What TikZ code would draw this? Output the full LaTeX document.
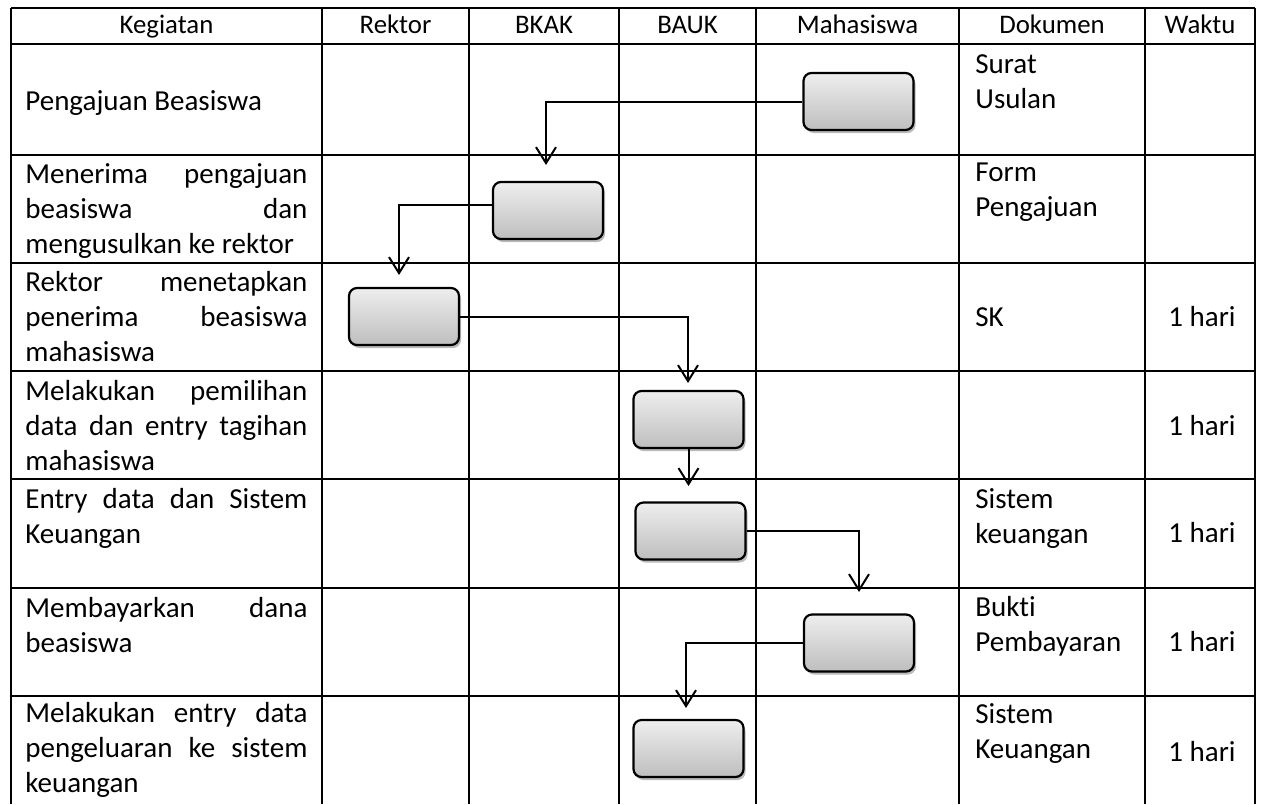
\documentclass[tikz,border=0pt]{standalone}
\usepackage{fontspec}
\setmainfont{Carlito}[Ligatures={NoCommon}]
\usetikzlibrary{arrows.meta,shadows}
\definecolor{boxtop}{RGB}{238,238,238}
\definecolor{boxbot}{RGB}{190,190,190}
\newcommand{\jl}[1]{\makebox[141pt][s]{\spaceskip=0pt\xspaceskip=0pt\relax#1}}
\begin{document}
\begin{tikzpicture}[x=0.5pt,y=-0.5pt,
  rule/.style={line width=1.2pt},
  txt/.style={inner sep=0pt, font=\fontsize{14.5}{17.5}\selectfont},
  cell/.style={txt, anchor=base west, text width=150pt, align=justify},
  doc/.style={txt, anchor=base west, text width=90pt, align=justify},
  hd/.style={inner sep=0pt, font=\fontsize{13.4}{16}\selectfont, anchor=base},
  wk/.style={txt, anchor=base},
  act/.style={draw, line width=1.1pt, rounded corners=4pt, minimum width=55pt,
    minimum height=28.5pt, inner sep=0pt, top color=boxtop, bottom color=boxbot,
    drop shadow={shadow xshift=1pt, shadow yshift=-1.5pt, opacity=0.45, fill=black!60}},
  conn/.style={line width=1pt, -{Straight Barb[length=8pt,width=10pt]}}]
\useasboundingbox (0,0) rectangle (1261,804);
\fill[white] (0,0) rectangle (1261,804);
% table grid
\foreach \y in {8,44,155,263,371,479,588,696}
  \draw[rule] (11,\y) -- (1255,\y);
\foreach \x in {11,322,469,619,756,959,1145,1255}
  \draw[rule] (\x,8) -- (\x,804);
% header
\node[hd] (hKeg) at (166.5,33.5) {Kegiatan};
\node[hd] (hRek) at (395.5,33.5) {Rektor};
\node[hd] (hBKAK) at (544,33.5) {BKAK};
\node[hd] (hBAUK) at (687.5,33.5) {BAUK};
\node[hd] (hMhs) at (857.5,33.5) {Mahasiswa};
\node[hd] (hDok) at (1052,33.5) {Dokumen};
\node[hd] (hWak) at (1200,33.5) {Waktu};
% activities
\node[cell] (k1) at (25,110) {Pengajuan Beasiswa};
\node[cell] (k2) at (25,183) {\jl{Menerima pengajuan}\\\jl{beasiswa dan}\\mengusulkan ke rektor};
\node[cell] (k3) at (25,291.5) {\jl{Rektor menetapkan}\\\jl{penerima beasiswa}\\mahasiswa};
\node[cell] (k4) at (25,400) {\jl{Melakukan pemilihan}\\\jl{data dan entry tagihan}\\mahasiswa};
\node[cell] (k5) at (25,508) {\jl{Entry data dan Sistem}\\Keuangan};
\node[cell] (k6) at (25,617) {\jl{Membayarkan dana}\\beasiswa};
\node[cell] (k7) at (25,722) {\jl{Melakukan entry data}\\\jl{pengeluaran ke sistem}\\keuangan};
% documents
\node[doc] (d1) at (975,73.5) {Surat\\Usulan};
\node[doc] (d2) at (975,181.5) {Form\\Pengajuan};
\node[doc] (d3) at (975,326.5) {SK};
\node[doc] (d5) at (975,508) {Sistem\\keuangan};
\node[doc] (d6) at (975,616) {Bukti\\Pembayaran};
\node[doc] (d7) at (975,723) {Sistem\\Keuangan};
% time
\node[wk] (w3) at (1202,326.5) {1 hari};
\node[wk] (w4) at (1202,435) {1 hari};
\node[wk] (w5) at (1202,542) {1 hari};
\node[wk] (w6) at (1202,651) {1 hari};
\node[wk] (w7) at (1202,761) {1 hari};
% activity boxes
\node[act] (B1) at (858.5,101.5) {};
\node[act] (B2) at (548,210.5) {};
\node[act] (B3) at (404,316.5) {};
\node[act] (B4) at (688.5,419.5) {};
\node[act] (B5) at (690.5,531) {};
\node[act] (B6) at (859,643) {};
\node[act] (B7) at (688.5,748.5) {};
% arrow tips
\coordinate (t1) at (546,165);
\coordinate (t2) at (399,275);
\coordinate (t3) at (688,383);
\coordinate (t4) at (688.5,486);
\coordinate (t5) at (859,592);
\coordinate (t6) at (686,708);
% connectors
\draw[conn] (B1.west) -| (t1);
\draw[conn] ([yshift=3pt]B2.west) -| (t2);
\draw[conn] (B3.east) -| (t3);
\draw[conn] (B4.south) -- (t4);
\draw[conn] (B5.east) -| (t5);
\draw[conn] (B6.west) -| (t6);
\end{tikzpicture}
\end{document}
